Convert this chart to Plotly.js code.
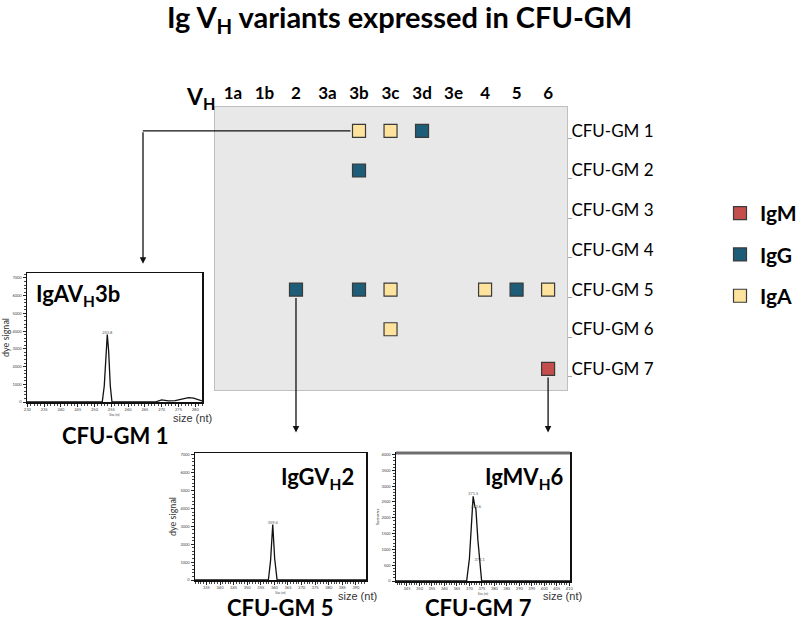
<!DOCTYPE html>
<html><head><meta charset="utf-8">
<script src="https://cdn.plot.ly/plotly-3.0.1.min.js"></script>
<style>html,body{margin:0;padding:0;background:#fff}</style>
</head><body><div id="chart" style="width:798px;height:622px"></div>
<script>
// ---- main grid data ----
const vhFamilies = ['1a','1b','2','3a','3b','3c','3d','3e','4','5','6'];
const colonies = ['CFU-GM 1','CFU-GM 2','CFU-GM 3','CFU-GM 4','CFU-GM 5','CFU-GM 6','CFU-GM 7'];
const igmFamily = ['6'];
const igmColony = ['CFU-GM 7'];
const iggFamily = ['3d','3b','2','3b','5'];
const iggColony = ['CFU-GM 1','CFU-GM 2','CFU-GM 5','CFU-GM 5','CFU-GM 5'];
const igaFamily = ['3b','3c','3c','4','6','3c'];
const igaColony = ['CFU-GM 1','CFU-GM 1','CFU-GM 5','CFU-GM 5','CFU-GM 5','CFU-GM 6'];

// ---- electropherograms (size in nt, dye signal) ----
const igaSize   = [229.9, 252.3, 252.9, 253.4, 253.8, 254.2, 254.7, 255.2, 268, 270, 272, 274, 276, 278, 279.5, 281, 282];
const igaSignal = [0, 0, 900, 2900, 3800, 2900, 900, 0, 0, 120, 60, 80, 150, 250, 220, 100, 60];
const iggSize   = [330.8, 357.8, 358.6, 359.4, 360.1, 361.0, 393.7];
const iggSignal = [0, 0, 1100, 3100, 1200, 0, 0];
const igmSize   = [340.6, 368.9, 370.0, 371.0, 371.5, 372.2, 372.6, 373.4, 374.1, 374.9, 410.3];
const igmSignal = [0, 0, 700, 2300, 2680, 2350, 2280, 1300, 600, 0, 0];
// peak call labels
const igaPeakSize = [253.8], igaPeakSignal = [3800], igaPeakText = ['253.8'];
const iggPeakSize = [359.4], iggPeakSignal = [3100], iggPeakText = ['359.4'];
const igmPeakSize = [371.5, 372.6, 374.1], igmPeakSignal = [2680, 2280, 600], igmPeakText = ['371.5', '372.6', '374.1'];

const rowIndex = c => colonies.indexOf(c) + 1;
const F = 'Lato, "Open Sans", sans-serif';
const W = 798, H = 622;
const px = v => v / W, py = v => 1 - v / H;

const mk = (color) => ({symbol:'square', size:13, color:color, line:{color:'#3a3a3a', width:1.2}});
const peakLine = {color:'#111', width:1.3};
const peakTxt = (x, y, t, xa, ya) => ({x:x, y:y, text:t, type:'scatter', mode:'text', textposition:'top center',
  textfont:{size:4, color:'#555'}, xaxis:xa, yaxis:ya, showlegend:false, hoverinfo:'skip', cliponaxis:false});
const traces = [
  {x:igmFamily, y:igmColony.map(rowIndex), type:'scatter', mode:'markers', name:'<b>IgM</b>', legendgroup:'m', marker:mk('#c44e4c'), xaxis:'x', yaxis:'y', hoverinfo:'skip'},
  {x:iggFamily, y:iggColony.map(rowIndex), type:'scatter', mode:'markers', name:'<b>IgG</b>', legendgroup:'g', marker:mk('#1e5d78'), xaxis:'x', yaxis:'y', hoverinfo:'skip'},
  {x:igaFamily, y:igaColony.map(rowIndex), type:'scatter', mode:'markers', name:'<b>IgA</b>', legendgroup:'a', marker:mk('#fde39d'), xaxis:'x', yaxis:'y', hoverinfo:'skip'},
  {x:igaSize, y:igaSignal, type:'scatter', mode:'lines', line:peakLine, xaxis:'x2', yaxis:'y2', showlegend:false, hoverinfo:'skip'},
  {x:iggSize, y:iggSignal, type:'scatter', mode:'lines', line:peakLine, xaxis:'x3', yaxis:'y3', showlegend:false, hoverinfo:'skip'},
  {x:igmSize, y:igmSignal, type:'scatter', mode:'lines', line:peakLine, xaxis:'x4', yaxis:'y4', showlegend:false, hoverinfo:'skip'},
  peakTxt(igaPeakSize, igaPeakSignal, igaPeakText, 'x2', 'y2'),
  peakTxt(iggPeakSize, iggPeakSignal, iggPeakText, 'x3', 'y3'),
  peakTxt(igmPeakSize, igmPeakSignal, igmPeakText, 'x4', 'y4')
];

const insetX = (dom, anchor, range, t0) => ({
  domain: dom, anchor: anchor, range: range, tickmode:'linear', tick0:t0, dtick:5,
  tickfont:{size:4, color:'#444'}, ticks:'outside', ticklen:3, tickcolor:'#222',
  minor:{ticks:'outside', ticklen:2, dtick:1, tickcolor:'#444'},
  showline:true, mirror:true, linecolor:'#111', linewidth:1.5, showgrid:false, zeroline:false,
  title:{text:'Size (nt)', font:{size:3, color:'#444'}, standoff:1}
});
const insetY = (dom, anchor, range, dt, mdt, title, tsize) => ({
  domain: dom, anchor: anchor, range: range, tickmode:'linear', tick0:0, dtick:dt,
  tickfont:{size:4, color:'#444'}, ticks:'outside', ticklen:3, tickcolor:'#222',
  minor:{ticks:'outside', ticklen:2, dtick:mdt, tickcolor:'#444'},
  showline:true, mirror:true, linecolor:'#111', linewidth:1.5, showgrid:false, zeroline:false,
  title:{text:title, font:{size:tsize, color:'#333'}, standoff:2}
});

const ann = [];
const txt = (text, x, y, size, opts) => ann.push(Object.assign({text:text, x:x, y:y, xref:'paper', yref:'paper',
  xanchor:'center', yanchor:'middle', showarrow:false, font:{family:F, size:size, color:'#000'}}, opts||{}));
const smallF = {family:'Liberation Sans, Arial, sans-serif', size:11, color:'#333'};
txt('<b>Ig V<sub>H</sub> variants expressed in CFU-GM</b>', 0.5, py(18), 29);
txt('<b>V<sub>H</sub></b>', px(200), py(98), 23);
txt('<b>IgAV<sub>H</sub>3b</b>', px(34), py(295), 22, {xanchor:'left'});
txt('<b>IgGV<sub>H</sub>2</b>', px(356), py(478), 22, {xanchor:'right'});
txt('<b>IgMV<sub>H</sub>6</b>', px(566), py(478), 22, {xanchor:'right'});
txt('<b>CFU-GM 1</b>', px(115), py(435), 22);
txt('<b>CFU-GM 5</b>', px(280), py(607), 22);
txt('<b>CFU-GM 7</b>', px(478), py(607), 22);
txt('size (nt)', px(192), py(418), 11, {font:smallF});
txt('size (nt)', px(357), py(596), 11, {font:smallF});
txt('size (nt)', px(562), py(596), 11, {font:smallF});

// connector arrows, anchored on the data markers
const arrowBase = {text:'', showarrow:true, arrowcolor:'#111', arrowwidth:1.3, arrowsize:1};
ann.push(Object.assign({}, arrowBase, {xref:'x', yref:'y', x:-2.86, y:1, axref:'x', ayref:'y', ax:4, ay:1, arrowhead:0, startstandoff:7}));
ann.push(Object.assign({}, arrowBase, {xref:'paper', yref:'y', x:px(143), y:4.35, axref:'pixel', ayref:'y', ax:0, ay:1, arrowhead:2, standoff:0}));
ann.push(Object.assign({}, arrowBase, {xref:'x', yref:'y', x:2, y:8.6, axref:'x', ayref:'y', ax:2, ay:5, arrowhead:2, startstandoff:7}));
ann.push(Object.assign({}, arrowBase, {xref:'x', yref:'y', x:10, y:8.6, axref:'x', ayref:'y', ax:10, ay:7, arrowhead:2, startstandoff:7}));

const layout = {
  width:W, height:H, margin:{l:0, r:0, t:0, b:0, autoexpand:false}, paper_bgcolor:'#fff', plot_bgcolor:'rgba(0,0,0,0)',
  font:{family:F, color:'#000'}, showlegend:true,
  legend:{x:px(720), y:py(193), xanchor:'left', yanchor:'top', font:{family:F, size:21, color:'#000'}, tracegroupgap:11, bgcolor:'rgba(0,0,0,0)'},
  shapes:[
    {type:'rect', xref:'x domain', yref:'y domain', x0:0, x1:1, y0:0, y1:1, fillcolor:'#e8e8e8', line:{width:0}, layer:'below'},
    {type:'line', xref:'x4 domain', yref:'y4 domain', x0:0, x1:1, y0:1, y1:1, line:{color:'#6e6e6e', width:3}}
  ],
  xaxis:{domain:[px(215), px(567)], anchor:'y', side:'top', type:'category', categoryorder:'array', categoryarray:vhFamilies,
         range:[-0.57, 10.6], tickfont:{family:F, size:17, color:'#000'}, ticks:'', showgrid:false, zeroline:false,
         showline:true, mirror:true, linecolor:'#bfbfbf', linewidth:1, tickprefix:'<b>', ticksuffix:'</b>'},
  yaxis:{domain:[py(390), py(107)], anchor:'x', side:'right', range:[7.53, 0.4], tickmode:'array', tickvals:[1,2,3,4,5,6,7], ticktext:colonies,
         tickfont:{family:F, size:17, color:'#000'}, ticks:'', showgrid:false, zeroline:false,
         showline:true, mirror:true, linecolor:'#bfbfbf', linewidth:1,
         minor:{ticks:'outside', ticklen:4, tick0:0.2, dtick:1, tickcolor:'#aaa'}},
  xaxis2: insetX([px(27), px(202)], 'y2', [229.9, 282], 230),
  yaxis2: insetY([py(402), py(273)], 'x2', [0, 7280], 1000, 200, 'dye signal', 9),
  xaxis3: insetX([px(195), px(366)], 'y3', [330.8, 393.7], 335),
  yaxis3: insetY([py(580), py(453)], 'x3', [0, 7100], 1000, 200, 'dye signal', 9),
  xaxis4: insetX([px(396), px(570)], 'y4', [340.6, 410.3], 345),
  yaxis4: insetY([py(581), py(453)], 'x4', [0, 4050], 500, 100, 'fluorescence', 3),
  annotations: ann
};
Plotly.newPlot('chart', traces, layout, {staticPlot:true, displayModeBar:false});
</script></body></html>
